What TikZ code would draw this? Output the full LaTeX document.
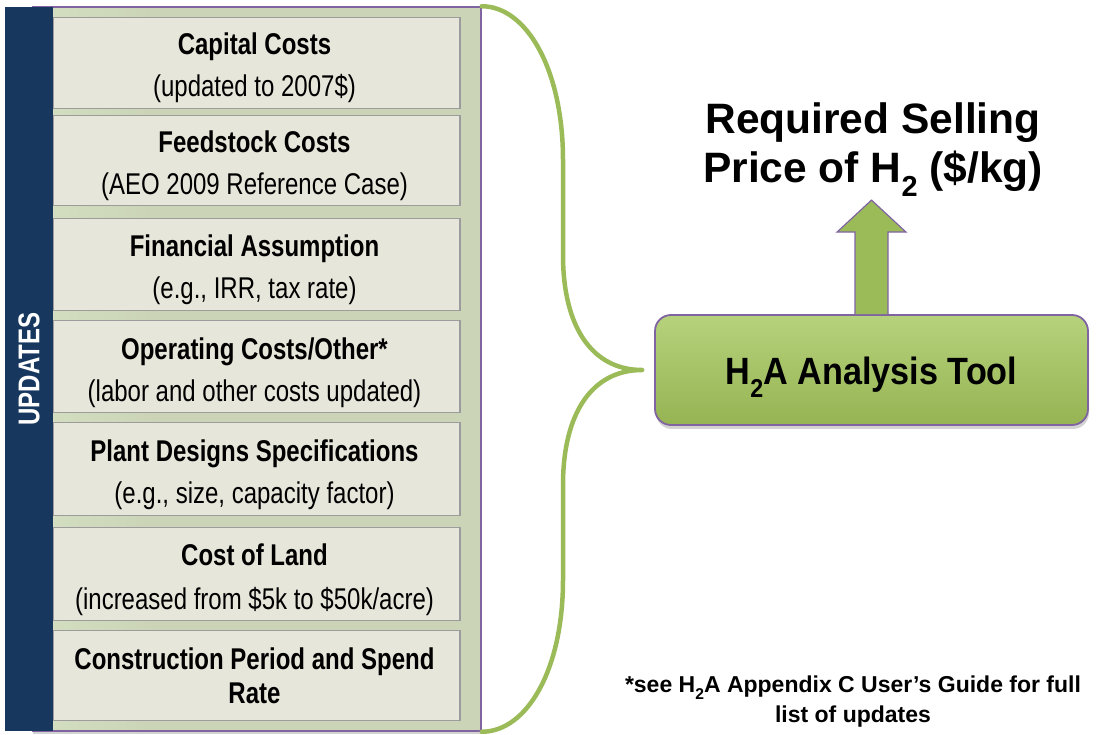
\documentclass[tikz,border=0pt]{standalone}
\usepackage{fontspec}
\usepackage{graphicx}
\setmainfont{Liberation Sans}
\newfontfamily\narrowfont[FakeStretch=0.8]{Liberation Sans}
\newfontfamily\toolfont[FakeStretch=0.9]{Liberation Sans}
\usetikzlibrary{calc,shadows}

\definecolor{barblue}{HTML}{17375E}
\definecolor{leafgreen}{HTML}{9BBB59}
\definecolor{tooltop}{HTML}{B6D27C}
\definecolor{toolbot}{HTML}{96B453}
\definecolor{violet}{HTML}{8064A2}
\definecolor{panelfill}{HTML}{CBD4B7}
\definecolor{panellight}{HTML}{ECE8DF}
\definecolor{panelmint}{HTML}{D6E3C4}
\definecolor{itemfill}{HTML}{E6E6DA}
\definecolor{itemedge}{HTML}{9C9C9C}

\pgfdeclarehorizontalshading{panelshade}{100bp}{%
  color(0bp)=(panellight); color(8bp)=(panellight); color(22bp)=(panelmint);
  color(38bp)=(panelfill); color(100bp)=(panelfill)}

% lowered subscript two, as in H2
\newcommand\lowtwo{\raisebox{-0.32em}{\scalebox{0.68}{2}}}

\begin{document}
\begin{tikzpicture}[x=1pt,y=-1pt,
  itembox/.style={draw=itemedge, line width=1.3pt, fill=itemfill,
    minimum width=407pt, inner sep=0pt, anchor=north},
  headtxt/.style={font=\narrowfont\bfseries\fontsize{30}{34}\selectfont,
    anchor=base, inner sep=0pt},
  subtxt/.style={font=\narrowfont\fontsize{30}{34}\selectfont,
    anchor=base, inner sep=0pt},
  bigtxt/.style={font=\bfseries\fontsize{42.5}{48}\selectfont,
    anchor=base, inner sep=0pt},
  notetxt/.style={font=\bfseries\fontsize{23}{28}\selectfont,
    anchor=base, inner sep=0pt},
  brace/.style={draw=leafgreen, line width=4.5pt, line cap=round, line join=round},
]
\useasboundingbox (0,0) rectangle (1096,735);

% background panel holding the list of updates
\node[draw=violet, line width=1.5pt, shading=panelshade, inner sep=0pt,
      minimum width=448pt, minimum height=724pt,
      drop shadow={opacity=0.35, shadow xshift=0pt, shadow yshift=-3pt}]
      (panel) at (257,369) {};

% the seven update items
\node[itembox, minimum height=91pt] (b1) at (256.5,17) {};
\node[itembox, minimum height=90pt] (b2) at (256.5,115) {};
\node[itembox, minimum height=92pt] (b3) at (256.5,218) {};
\node[itembox, minimum height=92pt] (b4) at (256.5,320) {};
\node[itembox, minimum height=93pt] (b5) at (256.5,422) {};
\node[itembox, minimum height=93pt] (b6) at (256.5,527) {};
\node[itembox, minimum height=90pt] (b7) at (256.5,630) {};

% navy side bar
\node[fill=barblue, inner sep=0pt, minimum width=48pt, minimum height=724pt]
      (bar) at (29,369) {};
\node[font=\narrowfont\bfseries\fontsize{30}{34}\selectfont, text=white,
      rotate=90, inner sep=0pt] (barlabel) at (bar.center) {UPDATES};

% item texts
\node[headtxt] (t1) at ($(b1.north)+(-2,38)$) {Capital Costs};
\node[subtxt]  (s1) at ($(b1.north)+(-2,80)$) {(updated to 2007\$)};
\node[headtxt] (t2) at ($(b2.north)+(-2,38)$) {Feedstock Costs};
\node[subtxt]  (s2) at ($(b2.north)+(-2,80)$) {(AEO 2009 Reference Case)};
\node[headtxt] (t3) at ($(b3.north)+(-2,39)$) {Financial Assumption};
\node[subtxt]  (s3) at ($(b3.north)+(-2,81)$) {(e.g., IRR, tax rate)};
\node[headtxt] (t4) at ($(b4.north)+(-2,40)$) {Operating Costs/Other*};
\node[subtxt]  (s4) at ($(b4.north)+(-2,82)$) {(labor and other costs updated)};
\node[headtxt] (t5) at ($(b5.north)+(-2,39)$) {Plant Designs Specifications};
\node[subtxt]  (s5) at ($(b5.north)+(-2,81)$) {(e.g., size, capacity factor)};
\node[headtxt] (t6) at ($(b6.north)+(-2,38)$) {Cost of Land};
\node[subtxt]  (s6) at ($(b6.north)+(-2,82)$) {(increased from \$5k to \$50k/acre)};
\node[headtxt] (t7) at ($(b7.north)+(-2,39)$) {Construction Period and Spend};
\node[headtxt] (u7) at ($(b7.north)+(-2,73)$) {Rate};

% analysis tool box
\node[draw=violet, line width=1.8pt, rounded corners=16pt,
      top color=tooltop, bottom color=toolbot,
      minimum width=433pt, minimum height=110pt, inner sep=0pt,
      drop shadow={opacity=0.35, shadow xshift=1pt, shadow yshift=-4pt}]
      (tool) at (871.5,370) {};
\node[font=\toolfont\bfseries\fontsize{38}{44}\selectfont, anchor=base,
      inner sep=0pt] (toollabel) at ($(tool.center)+(0,15)$)
      {H\lowtwo A Analysis Tool};

% curly brace gathering the updates into the tool
\coordinate (tip) at ($(tool.west)+(-12,0)$);
\draw[brace] (panel.north east)
   .. controls +(45,0) and +(0,-90) .. (563,160)
   -- (563,255)
   .. controls +(0,72) and +(-50,0) .. (tip)
   .. controls +(-50,0) and +(0,-72) .. (563,485)
   -- (563,580)
   .. controls +(0,90) and +(45,0) .. (panel.south east);

% block arrow up to the result
\coordinate (abase) at (tool.north);
\filldraw[fill=leafgreen, draw=violet, line width=1.2pt, line join=miter]
   ($(abase)+(-16.5,0)$) -- ($(abase)+(-16.5,-82)$) -- ($(abase)+(-34.5,-82)$)
   -- ($(abase)+(0,-114)$) -- ($(abase)+(34.5,-82)$) -- ($(abase)+(16.5,-82)$)
   -- ($(abase)+(16.5,0)$);

% result heading
\node[bigtxt] (res1) at (873,134) {Required Selling};
\node[bigtxt] (res2) at (873,183) {Price of H\lowtwo{} (\$/kg)};

% footnote
\node[notetxt] (note1) at (853,692) {*see H\lowtwo A Appendix C User’s Guide for full};
\node[notetxt] (note2) at (853,722) {list of updates};
\end{tikzpicture}
\end{document}
